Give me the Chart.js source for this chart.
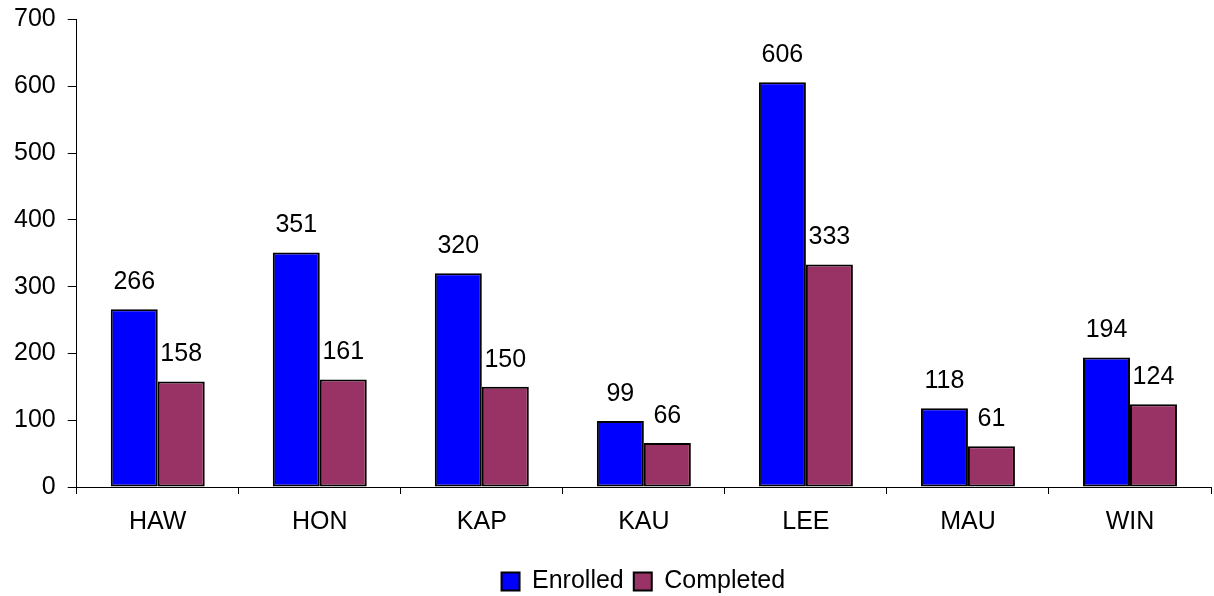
<!DOCTYPE html>
<html>
<head>
<meta charset="utf-8">
<script src="https://cdn.jsdelivr.net/npm/chart.js@4"></script>
<style>
    html, body { margin: 0; padding: 0; background: #fff; }
    #chart-wrap { width: 1214px; height: 596px; }
</style>
</head>
<body>
<div id="chart-wrap"><canvas id="campus-chart"></canvas></div>
<script>
const campuses = ['HAW', 'HON', 'KAP', 'KAU', 'LEE', 'MAU', 'WIN'];
const enrolled = [266, 351, 320, 99, 606, 118, 194];
const completed = [158, 161, 150, 66, 333, 61, 124];
const yMax = 700;
const yStep = 100;

const FONT = '"Liberation Sans", Arial, sans-serif';

// writes the value over each bar
const barValues = {
    id: 'barValues',
    afterDatasetsDraw(chart) {
        const c = chart.ctx;
        c.save();
        c.font = '25px ' + FONT;
        c.fillStyle = '#000';
        c.textAlign = 'center';
        c.textBaseline = 'middle';
        chart.data.datasets.forEach((ds, i) => {
            chart.getDatasetMeta(i).data.forEach((bar, j) => {
                c.fillText(ds.data[j], bar.x, bar.y - 27);
            });
        });
        c.restore();
    }
};

// legend sits centred under the plot and a bit lower
const legendShift = {
    id: 'legendShift',
    afterLayout(chart) {
        const dx = ((chart.chartArea.left + chart.chartArea.right) - chart.width) / 2;
        const dy = 9;
        chart.legend.left += dx;
        chart.legend.right += dx;
        chart.legend.top += dy;
        chart.legend.bottom += dy;
    }
};

document.addEventListener('DOMContentLoaded', () => {
    const ctx = 'campus-chart';
    new Chart(ctx, {
        type: 'bar',
        data: {
            labels: campuses,
            datasets: [{
                label: 'Enrolled',
                data: enrolled,
                backgroundColor: '#0000ff',
                borderColor: '#000',
                borderWidth: 2,
                borderSkipped: false,
                categoryPercentage: 0.58,
                barPercentage: 1
            }, {
                label: 'Completed',
                data: completed,
                backgroundColor: '#993366',
                borderColor: '#000',
                borderWidth: 2,
                borderSkipped: false,
                categoryPercentage: 0.58,
                barPercentage: 1
            }]
        },
        options: {
            responsive: true,
            maintainAspectRatio: false,
            animation: false,
            layout: { padding: { top: 0, right: 3, bottom: 1, left: 2 } },
            scales: {
                x: {
                    grid: { drawOnChartArea: false, tickLength: 7, color: '#000', offset: true },
                    border: { color: '#000', width: 1 },
                    ticks: { color: '#000', padding: 13, font: { size: 25, family: FONT } }
                },
                y: {
                    min: 0,
                    max: yMax,
                    grid: { drawOnChartArea: false, tickLength: 9, color: '#000' },
                    border: { color: '#000', width: 1 },
                    ticks: { stepSize: yStep, color: '#000', padding: 12, font: { size: 25, family: FONT, lineHeight: 0.6 } }
                }
            },
            plugins: {
                legend: {
                    position: 'bottom',
                    labels: {
                        color: '#000',
                        boxWidth: 18,
                        boxHeight: 18,
                        padding: 10,
                        font: { size: 25, family: FONT }
                    }
                },
                tooltip: { enabled: false }
            }
        },
        plugins: [barValues, legendShift]
    });
});
</script>
</body>
</html>
